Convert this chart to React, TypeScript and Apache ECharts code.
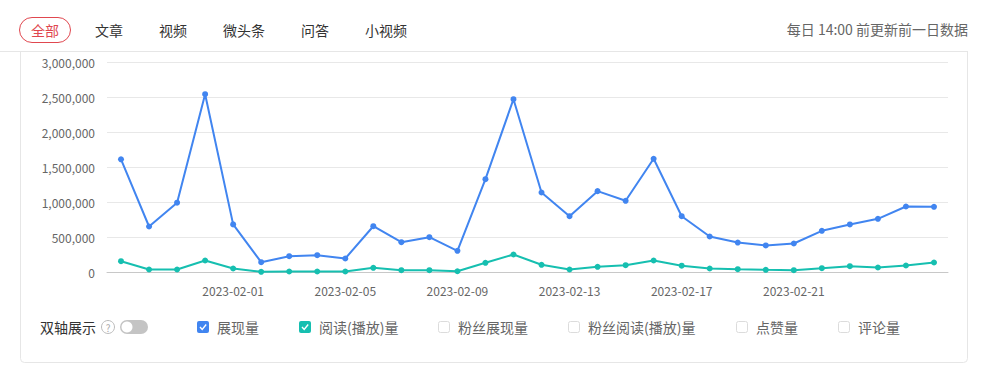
import React, { useEffect, useRef } from "react";
import * as echarts from "echarts";

const dates: string[] = [
  "2023-01-28", "2023-01-29", "2023-01-30", "2023-01-31", "2023-02-01", "2023-02-02",
  "2023-02-03", "2023-02-04", "2023-02-05", "2023-02-06", "2023-02-07", "2023-02-08",
  "2023-02-09", "2023-02-10", "2023-02-11", "2023-02-12", "2023-02-13", "2023-02-14",
  "2023-02-15", "2023-02-16", "2023-02-17", "2023-02-18", "2023-02-19", "2023-02-20",
  "2023-02-21", "2023-02-22", "2023-02-23", "2023-02-24", "2023-02-25", "2023-02-26",
];

const impressions: number[] = [
  1610000, 650000, 990000, 2540000, 680000, 140000, 226000, 240000, 193000, 654000,
  426000, 497000, 303000, 1326000, 2469000, 1136000, 797000, 1155000, 1017000, 1617000,
  797000, 507000, 421000, 379000, 407000, 588000, 679000, 760000, 936000, 931000,
];

const reads: number[] = [
  154000, 36000, 36000, 164000, 50000, 3000, 7000, 7000, 7000, 60000,
  26000, 26000, 11000, 131000, 250000, 103000, 36000, 74000, 97000, 164000,
  90000, 50000, 40000, 31000, 26000, 54000, 83000, 64000, 93000, 136000,
];

const tabs: string[] = ["全部", "文章", "视频", "微头条", "问答", "小视频"];
const legendItems: string[] = ["展现量", "阅读(播放)量", "粉丝展现量", "粉丝阅读(播放)量", "点赞量", "评论量"];
const noteText = "每日 14:00 前更新前一日数据";
const dualAxisText = "双轴展示";

const BLUE = "#4185f0";
const TEAL = "#16bfb0";
const RED = "#e0474f";
const FONT = "'Microsoft YaHei', 'Noto Sans CJK SC', sans-serif";

export default function App() {
  const ref = useRef<HTMLDivElement>(null);

  useEffect(() => {
    if (!ref.current) return;
    const chart = echarts.init(ref.current, undefined, { renderer: "svg" });

    const tabCenters = [45, 109, 173, 244, 315, 386];
    const tabGraphics: any[] = tabs.map((t, i) => ({
      type: "text",
      x: tabCenters[i],
      y: 30,
      style: {
        text: t,
        fill: i === 0 ? RED : "#333",
        fontSize: 14,
        fontFamily: FONT,
        align: "center",
        verticalAlign: "middle",
      },
      z: 10,
    }));

    const cbX = [197, 299, 438, 568, 736, 838];
    const cbColors = [BLUE, TEAL, null, null, null, null];
    const legendGraphics: any[] = [];
    legendItems.forEach((name, i) => {
      const x = cbX[i];
      const c = cbColors[i];
      if (c) {
        legendGraphics.push({
          type: "rect",
          shape: { x, y: 321, width: 12, height: 12, r: 2 },
          style: { fill: c },
        });
        legendGraphics.push({
          type: "polyline",
          shape: { points: [[x + 3, 327], [x + 5.2, 329.5], [x + 9.2, 324.5]] },
          style: { stroke: "#fff", lineWidth: 1.4, fill: null },
        });
      } else {
        legendGraphics.push({
          type: "rect",
          shape: { x: x + 0.5, y: 321.5, width: 11, height: 11, r: 2 },
          style: { fill: "#fff", stroke: "#dcdcdc", lineWidth: 1 },
        });
      }
      legendGraphics.push({
        type: "text",
        x: x + 20,
        y: 327,
        style: {
          text: name,
          fill: "#666",
          fontSize: 14,
          fontFamily: FONT,
          align: "left",
          verticalAlign: "middle",
        },
      });
    });

    chart.setOption({
      animation: false,
      backgroundColor: "#fff",
      textStyle: { fontFamily: FONT },
      grid: { left: 107, right: 47, top: 62, bottom: 100, containLabel: false },
      tooltip: { show: false },
      xAxis: {
        type: "category",
        data: dates,
        boundaryGap: true,
        axisLine: { lineStyle: { color: "#c8c8c8" } },
        axisTick: {
          alignWithLabel: true,
          length: 5,
          lineStyle: { color: "#c8c8c8" },
          interval: (i: number) => i % 4 === 0 && i > 0 && i < 28,
        },
        axisLabel: {
          color: "#666",
          fontSize: 12,
          margin: 12,
          fontFamily: FONT,
          interval: (i: number) => i % 4 === 0 && i > 0 && i < 28,
        },
      },
      yAxis: {
        type: "value",
        min: 0,
        max: 3000000,
        interval: 500000,
        axisLine: { show: false },
        axisTick: { show: false },
        axisLabel: {
          color: "#666",
          fontSize: 12,
          margin: 12,
          fontFamily: FONT,
          formatter: (v: number) => v.toLocaleString("en-US"),
        },
        splitLine: { lineStyle: { color: "#e8e8e8" } },
      },
      series: [
        {
          name: legendItems[0],
          type: "line",
          data: impressions,
          symbol: "circle",
          symbolSize: 6,
          showAllSymbol: true,
          lineStyle: { color: BLUE, width: 2 },
          itemStyle: { color: BLUE },
          z: 3,
        },
        {
          name: legendItems[1],
          type: "line",
          data: reads,
          symbol: "circle",
          symbolSize: 6,
          showAllSymbol: true,
          lineStyle: { color: TEAL, width: 2 },
          itemStyle: { color: TEAL },
          z: 4,
        },
      ],
      graphic: [
        {
          type: "line",
          shape: { x1: 0, y1: 51.5, x2: 968, y2: 51.5 },
          style: { stroke: "#e6e6e6", lineWidth: 1 },
        },
        {
          type: "rect",
          shape: { x: 20.5, y: 51.5, width: 947, height: 311, r: [0, 0, 4, 4] },
          style: { fill: null, stroke: "#e6e6e6", lineWidth: 1 },
          z: -1,
        },
        {
          type: "rect",
          shape: { x: 19.5, y: 17.5, width: 51, height: 25, r: 12.5 },
          style: { fill: "#fff", stroke: RED, lineWidth: 1 },
          z: 5,
        },
        ...tabGraphics,
        {
          type: "text",
          x: 968,
          y: 29,
          style: {
            text: noteText,
            fill: "#666",
            fontSize: 14,
            fontFamily: FONT,
            align: "right",
            verticalAlign: "middle",
          },
        },
        {
          type: "text",
          x: 40,
          y: 327,
          style: {
            text: dualAxisText,
            fill: "#333",
            fontSize: 14,
            fontFamily: FONT,
            align: "left",
            verticalAlign: "middle",
          },
        },
        {
          type: "circle",
          shape: { cx: 108, cy: 327, r: 6.5 },
          style: { fill: "#fff", stroke: "#bbb", lineWidth: 1 },
        },
        {
          type: "text",
          x: 108,
          y: 327.5,
          style: {
            text: "?",
            fill: "#aaa",
            fontSize: 10,
            fontFamily: FONT,
            align: "center",
            verticalAlign: "middle",
          },
        },
        {
          type: "rect",
          shape: { x: 120, y: 320, width: 28, height: 14, r: 7 },
          style: { fill: "#c4c4c4" },
        },
        {
          type: "circle",
          shape: { cx: 127, cy: 327, r: 5.5 },
          style: { fill: "#fff" },
        },
        ...legendGraphics,
      ],
    });

    return () => chart.dispose();
  }, []);

  return (
    <div
      ref={ref}
      style={{ position: "absolute", left: 0, top: 0, width: 995, height: 372 }}
    />
  );
}
